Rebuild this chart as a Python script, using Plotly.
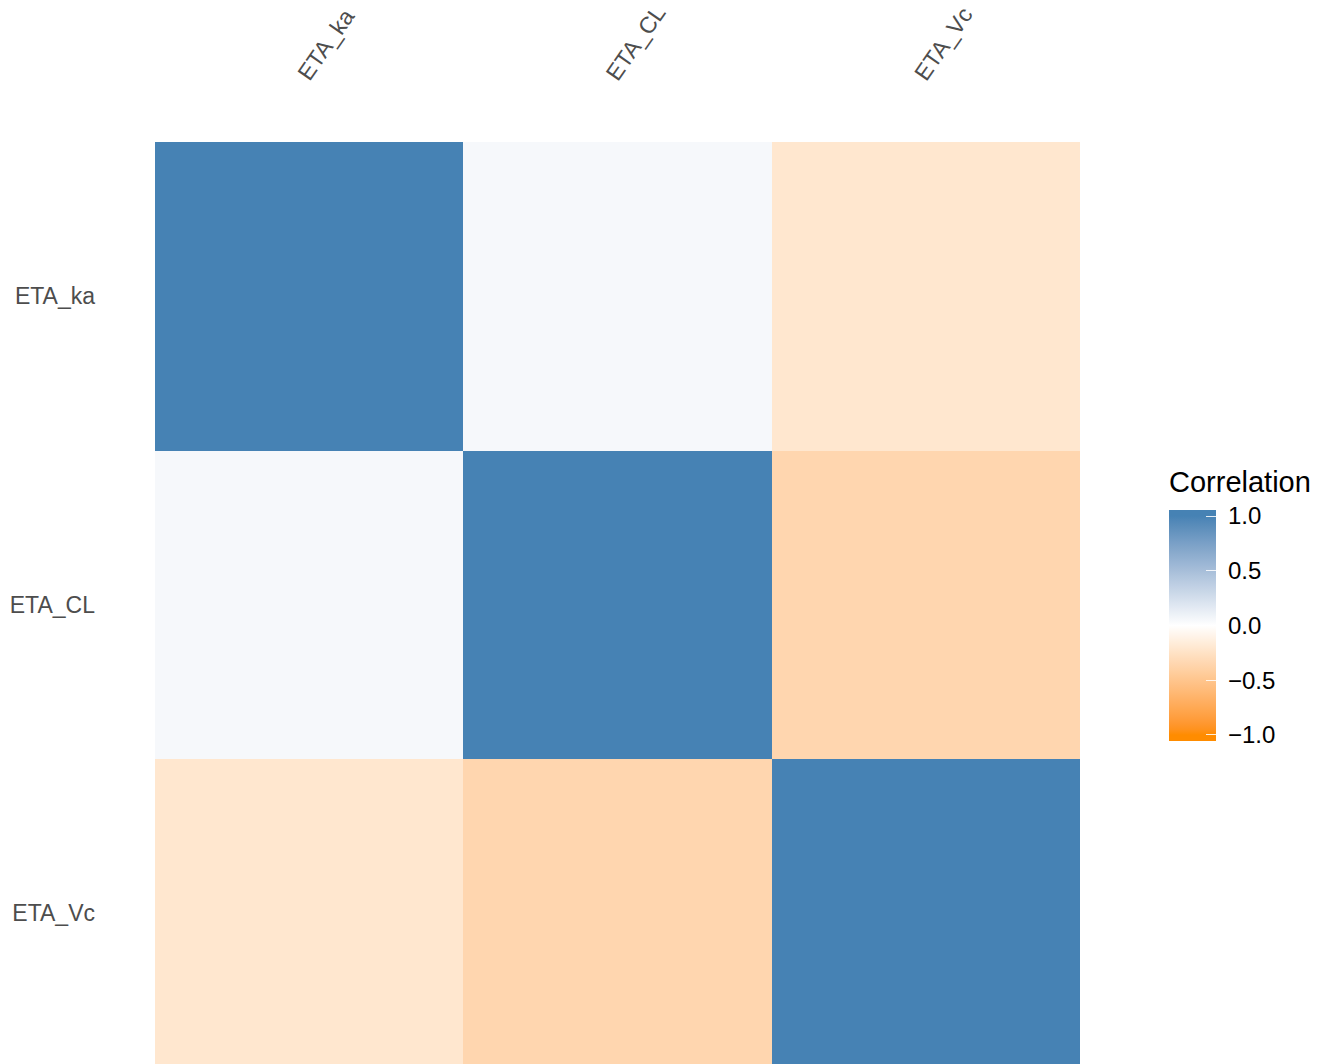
import plotly.graph_objects as go

# Correlation matrix of the random effects
variables = ["ETA_ka", "ETA_CL", "ETA_Vc"]
corr_ka = [1.0, 0.05, -0.21]
corr_cl = [0.05, 1.0, -0.35]
corr_vc = [-0.21, -0.35, 1.0]
z_values = [corr_ka, corr_cl, corr_vc]

legend_title = "Correlation"
legend_ticks = [-1.0, -0.5, 0.0, 0.5, 1.0]
legend_labels = ["\u22121.0", "\u22120.5", "0.0", "0.5", "1.0"]

# colour bar runs a little beyond the [-1, 1] limits, like a binned legend
Z_LO, Z_HI = -1.055, 1.055


# ---- diverging palette interpolated in CIE Lab (orange -> white -> steelblue)
def _srgb_to_lin(c):
    c = c / 255.0
    return c / 12.92 if c <= 0.04045 else ((c + 0.055) / 1.055) ** 2.4


def _lin_to_srgb(c):
    c = max(0.0, min(1.0, c))
    v = 12.92 * c if c <= 0.0031308 else 1.055 * c ** (1 / 2.4) - 0.055
    return int(round(max(0, min(1, v)) * 255))


WX, WY, WZ = 0.95047, 1.0, 1.08883


def hex_to_lab(h):
    h = h.lstrip("#")
    r, g, b = (_srgb_to_lin(int(h[i:i + 2], 16)) for i in (0, 2, 4))
    x = 0.4124 * r + 0.3576 * g + 0.1805 * b
    y = 0.2126 * r + 0.7152 * g + 0.0722 * b
    z = 0.0193 * r + 0.1192 * g + 0.9505 * b

    def f(t):
        return t ** (1 / 3) if t > 0.008856 else 7.787 * t + 16 / 116

    fx, fy, fz = f(x / WX), f(y / WY), f(z / WZ)
    return 116 * fy - 16, 500 * (fx - fy), 200 * (fy - fz)


def lab_to_rgb(L, a, b):
    fy = (L + 16) / 116
    fx = fy + a / 500
    fz = fy - b / 200

    def finv(t):
        return t ** 3 if t ** 3 > 0.008856 else (t - 16 / 116) / 7.787

    x, y, z = finv(fx) * WX, finv(fy) * WY, finv(fz) * WZ
    r = 3.2406 * x - 1.5372 * y - 0.4986 * z
    g = -0.9689 * x + 1.8758 * y + 0.0415 * z
    bb = 0.0557 * x - 0.2040 * y + 1.0570 * z
    return "rgb({},{},{})".format(_lin_to_srgb(r), _lin_to_srgb(g), _lin_to_srgb(bb))


def lab_color(v, lo, mi, hi):
    v = max(-1.0, min(1.0, v))
    if v < 0:
        t = v + 1.0
        a, b = lo, mi
    else:
        t = v
        a, b = mi, hi
    return lab_to_rgb(*[a[k] + (b[k] - a[k]) * t for k in range(3)])


def lab_scale(low, mid, high, n=40):
    lo, mi, hi = hex_to_lab(low), hex_to_lab(mid), hex_to_lab(high)
    vals = [Z_LO] + [-1 + 2 * i / n for i in range(n + 1)] + [Z_HI]
    return [[(v - Z_LO) / (Z_HI - Z_LO), lab_color(v, lo, mi, hi)] for v in vals]


colorscale = lab_scale("#FF8C00", "#FFFFFF", "#4682B4")

W, H = 1329, 1064
L_M, R_M, T_M, B_M = 155, 249, 142, 0
plot_w = W - L_M - R_M
plot_h = H - T_M - B_M

# the last row runs slightly past the bottom edge of the page
CELL_PX = 308.5
Y_TOP = len(variables) - 0.5
Y_BOTTOM = Y_TOP - plot_h / CELL_PX


def px_x(px):
    return (px - L_M) / plot_w


def px_y(px):
    return (H - B_M - px) / plot_h


BAR_TOP, BAR_BOTTOM, BAR_LEFT = 510, 741, 1169

FONT = "Liberation Sans, Arial, sans-serif"

fig = go.Figure(
    go.Heatmap(
        x=variables,
        y=variables,
        z=z_values,
        zmin=Z_LO,
        zmax=Z_HI,
        colorscale=colorscale,
        xgap=0,
        ygap=0,
        colorbar=dict(
            tickvals=legend_ticks,
            ticktext=["\u00a0" + t for t in legend_labels],
            tickfont=dict(family=FONT, size=24, color="#000000"),
            ticks="inside",
            ticklen=10,
            tickwidth=1.2,
            tickcolor="rgba(255,255,255,0.85)",
            outlinewidth=0,
            thicknessmode="pixels",
            thickness=47,
            lenmode="pixels",
            len=BAR_BOTTOM - BAR_TOP,
            x=px_x(BAR_LEFT),
            xanchor="left",
            y=px_y(BAR_BOTTOM),
            yanchor="bottom",
            xpad=0,
            ypad=0,
        ),
    )
)

axis_font = dict(family=FONT, size=23, color="#4D4D4D")

# rotated column labels above the matrix
for name in variables:
    fig.add_annotation(
        x=name,
        xref="x",
        y=1,
        yref="paper",
        text=name,
        textangle=-55,
        showarrow=False,
        xanchor="left",
        yanchor="bottom",
        xshift=-20,
        yshift=54,
        font=axis_font,
    )

# colour bar title
fig.add_annotation(
    x=px_x(BAR_LEFT - 2),
    xref="paper",
    y=px_y(482),
    yref="paper",
    text=legend_title,
    showarrow=False,
    xanchor="left",
    yanchor="middle",
    font=dict(family=FONT, size=29, color="#000000"),
)

fig.update_layout(
    width=W,
    height=H,
    margin=dict(l=L_M, r=R_M, t=T_M, b=B_M, autoexpand=False),
    paper_bgcolor="white",
    plot_bgcolor="white",
    xaxis=dict(
        side="top",
        showticklabels=False,
        showgrid=False,
        zeroline=False,
        showline=False,
        ticks="",
        automargin=False,
        categoryorder="array",
        categoryarray=variables,
    ),
    yaxis=dict(
        tickfont=axis_font,
        showgrid=False,
        zeroline=False,
        showline=False,
        ticks="",
        automargin=False,
        ticklabelstandoff=59,
        categoryorder="array",
        categoryarray=variables[::-1],
        range=[Y_BOTTOM, Y_TOP],
    ),
)

fig.write_html("out.html")
